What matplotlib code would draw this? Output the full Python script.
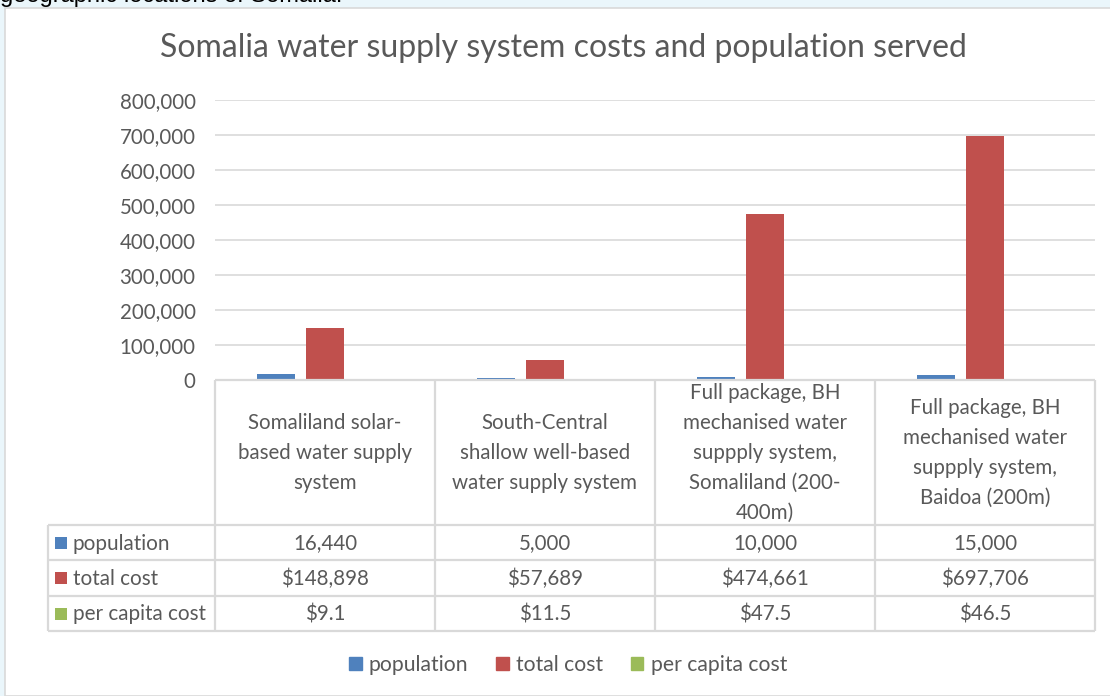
import matplotlib.pyplot as plt
import matplotlib.patches as mpatches
from matplotlib.ticker import FuncFormatter

categories = [
    "Somaliland solar-\nbased water supply\nsystem",
    "South-Central\nshallow well-based\nwater supply system",
    "Full package, BH\nmechanised water\nsuppply system,\nSomaliland (200-\n400m)",
    "Full package, BH\nmechanised water\nsuppply system,\nBaidoa (200m)",
]
series_names = ["population", "total cost", "per capita cost"]
population = [16440, 5000, 10000, 15000]
total_cost = [148898, 57689, 474661, 697706]
per_capita = [9.1, 11.5, 47.5, 46.5]
pop_labels = ["16,440", "5,000", "10,000", "15,000"]
cost_labels = ["$148,898", "$57,689", "$474,661", "$697,706"]
capita_labels = ["$9.1", "$11.5", "$47.5", "$46.5"]

colors = ["#4F81BD", "#C0504D", "#9BBB59"]
txt = "#595959"
grid = "#D9D9D9"
fs = 14.8
plt.rcParams['font.family'] = ['Lato', 'DejaVu Sans']

W, H = 1110, 696
fig = plt.figure(figsize=(W / 100, H / 100), dpi=100, facecolor="#EAF6FB")

def box(x0, y0, x1, y1):
    # pixel box (top-left origin) -> figure fraction rect
    return [x0 / W, 1 - y1 / H, (x1 - x0) / W, (y1 - y0) / H]

# white chart area with border
fig.patches.append(mpatches.Rectangle((5 / W, 0), 1.2, 1 - 8 / H, transform=fig.transFigure,
                                      facecolor="white", edgecolor=grid, lw=1.2, zorder=-5))
# caption of the page, cut by the top edge as in the source
fig.text(0, 1 - 2 / H, "geographic locations of Somalia.", fontsize=17, color="black",
         family="Liberation Sans", va="baseline", ha="left")

fig.text(563 / W, 1 - 48 / H, "Somalia water supply system costs and population served",
         ha="center", va="center", fontsize=23, color=txt)

# bar area
ax = fig.add_axes(box(215, 100, 1095, 380))
ax.set_facecolor("none")
ax.set_xlim(-0.5, 3.5)
ax.set_ylim(0, 800000)
ax.set_yticks(range(0, 800001, 100000))
ax.yaxis.set_major_formatter(FuncFormatter(lambda v, p: f"{v:,.0f}"))
ax.tick_params(axis="y", length=0, pad=14, labelsize=fs, labelcolor=txt)
ax.set_xticks([])
for s in ax.spines.values():
    s.set_visible(False)
ax.grid(axis="y", color=grid, lw=1.2)
ax.set_axisbelow(True)

offs = [-0.223, 0, 0.223]
bw = 0.173
for k, vals in enumerate([population, total_cost, per_capita]):
    ax.bar([i + offs[k] for i in range(len(vals))], vals, width=bw, color=colors[k], zorder=3)

# data table
left = -0.5 - 167 / 220
tb = fig.add_axes(box(48, 380, 1095, 631))
tb.set_xlim(left, 3.5)
tb.set_ylim(631, 380)
tb.axis("off")
lk = dict(color=grid, lw=1.6, solid_capstyle="butt", clip_on=False)
tb.plot([-0.5, 3.5], [380, 380], **lk)
for y in [525, 560, 596, 631]:
    tb.plot([left, 3.5], [y, y], **lk)
for i in range(5):
    tb.plot([-0.5 + i, -0.5 + i], [380, 631], **lk)
tb.plot([left, left], [525, 631], **lk)

for i, c in enumerate(categories):
    tb.text(i, 453, c, ha="center", va="center", fontsize=fs, color=txt, linespacing=1.62)

rows = [pop_labels, cost_labels, capita_labels]
row_y = [543.5, 579, 614.5]
for r, (labels, y) in enumerate(zip(rows, row_y)):
    for i, s in enumerate(labels):
        tb.text(i, y, s, ha="center", va="center", fontsize=fs, color=txt)
    tb.add_patch(mpatches.Rectangle((left + 7 / 220, y - 7), 12 / 220, 12,
                                    facecolor=colors[r], edgecolor="none", clip_on=False))
    tb.text(left + 25 / 220, y, series_names[r], ha="left", va="center", fontsize=14.9, color=txt)

handles = [mpatches.Patch(color=c, label=n) for c, n in zip(colors, series_names)]
fig.legend(handles=handles, loc="center", bbox_to_anchor=(568 / W, 1 - 665 / H), ncol=3,
           frameon=False, fontsize=15.2, labelcolor=txt, handlelength=0.6, handleheight=0.6,
           handletextpad=0.35, columnspacing=1.3)

fig.savefig("out.png", dpi=100, facecolor=fig.get_facecolor())
